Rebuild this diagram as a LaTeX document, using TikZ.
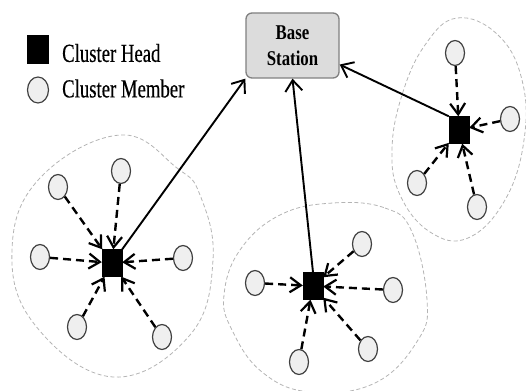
\documentclass[tikz,border=0pt]{standalone}
\usepackage{fontspec}
\setmainfont{Liberation Serif}
\newfontfamily\legfont{Liberation Serif}[FakeStretch=0.72,FakeBold=0.4]
\newfontfamily\bsfont{Liberation Serif}[FakeStretch=0.8]
\usetikzlibrary{arrows.meta,shapes.geometric}
\definecolor{memfill}{HTML}{EFEFEF}
\definecolor{bsfill}{HTML}{DCDCDC}
\definecolor{bsdraw}{HTML}{808080}
\definecolor{bnd}{HTML}{B4B4B4}
\tikzset{
  head/.style={rectangle, fill=black, draw=black, minimum width=20pt, minimum height=27pt, inner sep=0pt},
  member/.style={ellipse, fill=memfill, draw=black!75, line width=1.2pt, minimum width=19pt, minimum height=25pt, inner sep=0pt},
  tolink/.style={line width=1.9pt, -{Straight Barb[length=11pt,width=17pt,line width=1.9pt]}},
  memlink/.style={line width=2.4pt, dash pattern=on 8pt off 5pt, -{Straight Barb[length=11pt,width=15pt,line width=2.2pt]}},
  boundary/.style={draw=bnd, line width=0.8pt, dash pattern=on 4pt off 2.5pt},
  legtext/.style={anchor=west, inner sep=0pt, font=\legfont\fontsize{26}{28}\selectfont},
}
\begin{document}
\begin{tikzpicture}[x=1pt,y=-1pt]
\useasboundingbox (0,0) rectangle (526,390);
% boundaries
\draw[boundary] plot[smooth cycle, tension=0.7] coordinates {(120,135) (177,168) (200,195) (213,260) (190,335) (113,377) (35,325) (12,250) (40,178)};
\draw[boundary] plot[smooth cycle, tension=0.7] coordinates {(333,203) (385,208) (412,232) (427,300) (418,340) (375,383) (310,392) (262,372) (232,330) (224,295) (240,250) (280,215)};
\draw[boundary] plot[smooth cycle, tension=0.7] coordinates {(457,18) (498,35) (522,80) (524,140) (505,200) (468,238) (430,232) (400,195) (392,150) (402,95) (425,45)};
% legend
\node[head, minimum width=21pt, minimum height=28pt] (lh) at (38,49) {};
\node[legtext] (lht) at (62,53) {Cluster Head};
\node[member, minimum width=21pt, minimum height=26pt] (lm) at (38,90) {};
\node[legtext] (lmt) at (62,88.5) {Cluster Member};
% base station
\node[rectangle, rounded corners=6pt, fill=bsfill, draw=bsdraw, line width=1.3pt, minimum width=93pt, minimum height=65pt, align=center, inner sep=0pt,
  font=\bsfont\bfseries\fontsize{21}{26}\selectfont] (bs) at (292.5,45.5) {Base\\Station};
% heads
\node[head] (h1) at (112,263) {};
\node[head] (h2) at (313,286) {};
\node[head] (h3) at (459,130) {};
% cluster 1 members
\node[member] (a1) at (121,171) {};
\node[member] (a2) at (58,187) {};
\node[member] (a3) at (40,257) {};
\node[member] (a4) at (183,258) {};
\node[member] (a5) at (77,327) {};
\node[member] (a6) at (162,337) {};
% cluster 2 members
\node[member] (b1) at (255,283) {};
\node[member] (b2) at (362,244) {};
\node[member] (b3) at (393,290) {};
\node[member] (b4) at (368,349) {};
\node[member] (b5) at (299,362) {};
% cluster 3 members
\node[member] (c1) at (455,53) {};
\node[member] (c2) at (510,119) {};
\node[member] (c3) at (417,183) {};
\node[member] (c4) at (477,207) {};
% member links
\foreach \m in {a1,a2,a3,a4,a5,a6} \draw[memlink] (\m) -- (h1);
\foreach \m in {b1,b2,b3,b4,b5} \draw[memlink] (\m) -- (h2);
\foreach \m in {c1,c2,c3,c4} \draw[memlink] (\m) -- (h3);
% head links
\draw[tolink] (h1.north east) -- (bs.south west);
\draw[tolink] (h2.north) -- (bs.south);
\draw[tolink] (h3.north west) -- (bs.-22);
\end{tikzpicture}
\end{document}
